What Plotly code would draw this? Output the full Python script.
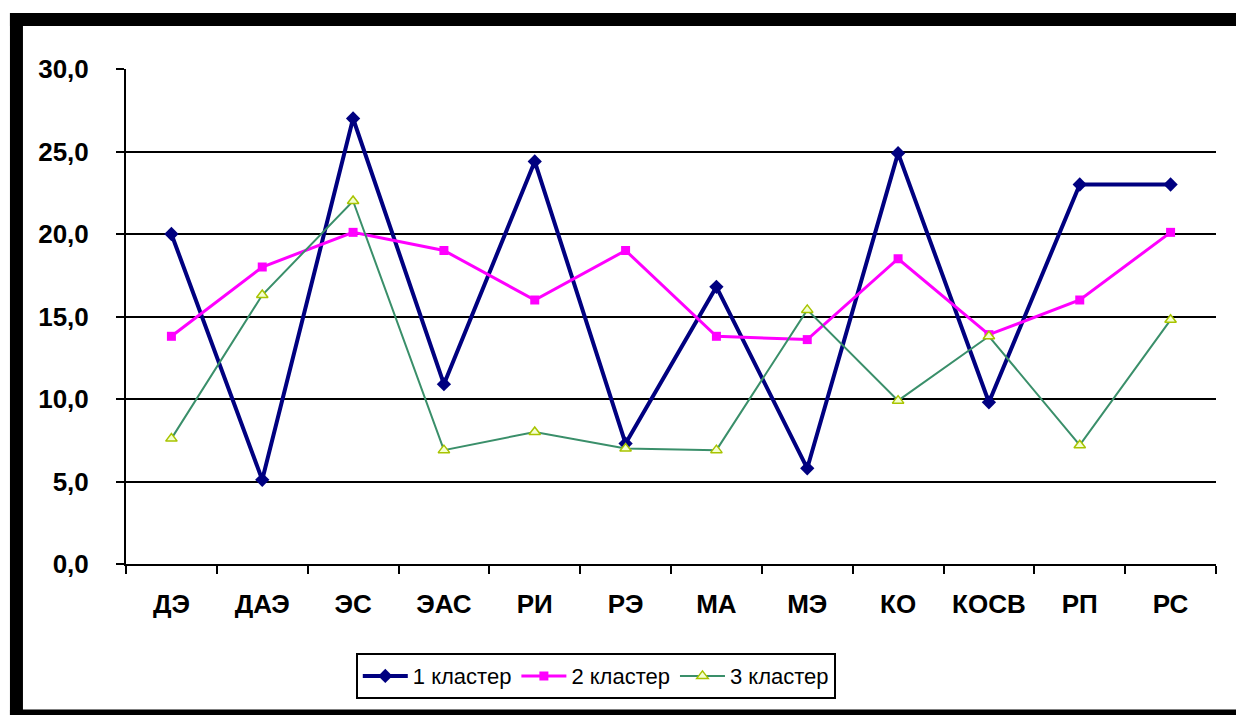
import plotly.graph_objects as go

categories = ["ДЭ", "ДАЭ", "ЭС", "ЭАС", "РИ", "РЭ", "МА", "МЭ", "КО", "КОСВ", "РП", "РС"]
cluster1 = [20.0, 5.1, 27.0, 10.9, 24.4, 7.3, 16.8, 5.8, 24.9, 9.8, 23.0, 23.0]
cluster2 = [13.8, 18.0, 20.1, 19.0, 16.0, 19.0, 13.8, 13.6, 18.5, 13.9, 16.0, 20.1]
cluster3 = [7.6, 16.3, 22.0, 6.9, 8.0, 7.0, 6.9, 15.4, 9.9, 13.8, 7.2, 14.8]
names = ["1 кластер", "2 кластер", "3 кластер"]
y_ticks = [0, 5, 10, 15, 20, 25, 30]
grid_vals = [5, 10, 15, 20, 25]

fig = go.Figure()
fig.add_trace(go.Scatter(
    x=categories, y=cluster1, name=names[0], mode="lines+markers",
    line=dict(color="#000080", width=4),
    marker=dict(symbol="diamond", size=11, color="#000080"),
))
fig.add_trace(go.Scatter(
    x=categories, y=cluster2, name=names[1], mode="lines+markers",
    line=dict(color="#FF00FF", width=3),
    marker=dict(symbol="square", size=9, color="#FF00FF"),
))
fig.add_trace(go.Scatter(
    x=categories, y=cluster3, name=names[2], mode="lines+markers",
    line=dict(color="#3A8F6A", width=2),
    marker=dict(symbol="triangle-up", size=10, color="#F4FFD0",
                line=dict(color="#A8C400", width=1.5)),
))
# empty helper trace so the grid-only overlay axis is rendered
fig.add_trace(go.Scatter(x=[], y=[], yaxis="y2", showlegend=False, hoverinfo="skip"))

tick_font = dict(family="Liberation Sans", size=26, color="black", weight="bold")

# outer black frame (left, top, bottom edges only; right edge is cut off)
fx0, fy0, fy1 = -0.1005, -0.307, 1.1
dx, dy = 6.5 / 1090, 6.5 / 495
frame_line = dict(color="black", width=13)
frame = [
    dict(type="line", xref="paper", yref="paper", x0=fx0, x1=fx0, y0=fy0 - dy, y1=fy1 + dy, line=frame_line),
    dict(type="line", xref="paper", yref="paper", x0=fx0 - dx, x1=1.2, y0=fy1, y1=fy1, line=frame_line),
    dict(type="line", xref="paper", yref="paper", x0=fx0 - dx, x1=1.2, y0=fy0, y1=fy0, line=frame_line),
]

fig.update_layout(
    width=1236, height=715,
    margin=dict(l=126, r=20, t=69, b=151),
    paper_bgcolor="white", plot_bgcolor="white",
    separators=", ",
    showlegend=True,
    legend=dict(
        orientation="h", x=0.431, xanchor="center", y=-0.18, yanchor="top",
        bordercolor="black", borderwidth=2, bgcolor="white",
        font=dict(family="Liberation Sans", size=22, color="black"),
        itemwidth=45, tracegroupgap=0,
    ),
    xaxis=dict(
        type="category", range=[-0.5, len(categories) - 0.5],
        showgrid=False, showline=True, linecolor="black", linewidth=2,
        ticks="outside", tickson="boundaries", ticklen=8, tickwidth=2, tickcolor="black",
        tickfont=tick_font, ticklabelstandoff=16,
    ),
    yaxis=dict(
        range=[0, 30], tickvals=y_ticks, tickformat=".1f", showgrid=False,
        showline=True, linecolor="black", linewidth=2, zeroline=False,
        ticks="outside", ticklen=8, tickwidth=2, tickcolor="black",
        tickfont=tick_font, ticklabelstandoff=22,
    ),
    yaxis2=dict(
        overlaying="y", side="left", range=[0, 30], tickvals=grid_vals, showgrid=True,
        gridcolor="black", gridwidth=2, showticklabels=False, ticks="",
        showline=False, zeroline=False,
    ),
    shapes=frame,
)

fig.write_html(
    "out.html",
    config={"displayModeBar": False},
    post_script=(
        "document.body.style.margin='0';"
        "document.body.style.overflow='hidden';"
        "document.documentElement.style.overflow='hidden';"
    ),
)
